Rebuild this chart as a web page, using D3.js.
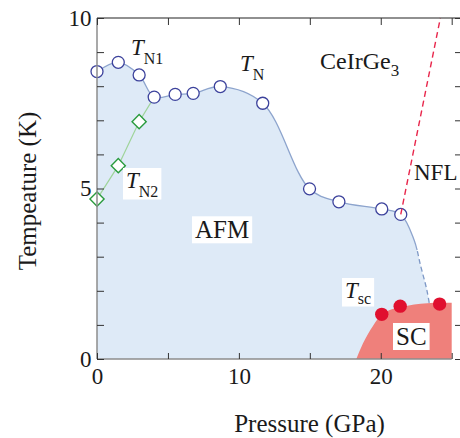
<!DOCTYPE html>
<html>
<head>
<meta charset="utf-8">
<script src="https://cdn.jsdelivr.net/npm/d3@7"></script>
<style>
  body { margin: 0; background: #fff; }
  text { font-family: "Liberation Serif", "Times New Roman", serif; fill: #1a1a1a; }
</style>
</head>
<body>
<div id="chart"></div>
<script>
// T_N (open circles)
const tnPressure = [0, 1.5, 2.97, 4.03, 5.51, 6.78, 8.69, 11.68, 14.98, 17.05, 20.07, 21.41];
const tnTemp = [8.43, 8.7, 8.33, 7.68, 7.76, 7.79, 7.99, 7.5, 4.99, 4.61, 4.4, 4.24];

// T_N2 (open diamonds), joins the T_N line at the 4th circle
const tn2Pressure = [0, 1.5, 2.97];
const tn2Temp = [4.69, 5.67, 6.96];

// T_sc (filled red dots)
const tscPressure = [20.07, 21.37, 24.15];
const tscTemp = [1.31, 1.55, 1.61];

// AFM boundary beyond the last circle (solid, then dashed)
const afmTailPressure = [22.35, 22.83, 23.25, 23.55];
const afmTailTemp = [3.49, 2.7, 2.02, 1.3];

// SC dome edge
const scPressure = [18.28, 18.75, 19.45, 20.17, 21.4, 22.35, 24.2, 25];
const scTemp = [0, 0.46, 0.97, 1.34, 1.52, 1.6, 1.65, 1.65];

// NFL crossover (red dashed)
const nflPressure = [21.41, 24.2];
const nflTemp = [4.24, 10];

const xTicks = [0, 5, 10, 15, 20, 25];
const yTicks = d3.range(0, 11);

const width = 460;
const height = 438;

const x = d3.scaleLinear().domain([0, 25]).range([97, 451.7]);
const y = d3.scaleLinear().domain([0, 10]).range([359, 18]);

const svg = d3
  .select("#chart")
  .append("svg")
  .attr("width", width)
  .attr("height", height);

const zip = (a, b) => a.map((v, i) => [v, b[i]]);

// AFM region
const afmEdge = zip(tnPressure, tnTemp).concat(zip(afmTailPressure, afmTailTemp));
const edgeCurve = d3.curveCatmullRom.alpha(0.5);

svg
  .append("path")
  .datum(afmEdge)
  .attr(
    "d",
    d3.area().x((d) => x(d[0])).y0(y(0)).y1((d) => y(d[1])).curve(edgeCurve)
  )
  .attr("fill", "#deeaf7");

// clip the boundary: solid above 3.2 K, dashed below
const defs = svg.append("defs");
defs
  .append("clipPath")
  .attr("id", "solidClip")
  .append("rect")
  .attr("x", 0)
  .attr("y", 0)
  .attr("width", width)
  .attr("height", y(3.2));
defs
  .append("clipPath")
  .attr("id", "dashClip")
  .append("rect")
  .attr("x", 0)
  .attr("y", y(3.2))
  .attr("width", width)
  .attr("height", y(0) - y(3.2));

const edgeLine = d3.line().x((d) => x(d[0])).y((d) => y(d[1])).curve(edgeCurve);

svg
  .append("path")
  .datum(afmEdge)
  .attr("d", edgeLine)
  .attr("clip-path", "url(#solidClip)")
  .attr("fill", "none")
  .attr("stroke", "#8da4cd")
  .attr("stroke-width", 1.3);

svg
  .append("path")
  .datum(afmEdge)
  .attr("d", edgeLine)
  .attr("clip-path", "url(#dashClip)")
  .attr("fill", "none")
  .attr("stroke", "#7d98c6")
  .attr("stroke-width", 1.3)
  .attr("stroke-dasharray", "5,3");

// SC dome
svg
  .append("path")
  .datum(zip(scPressure, scTemp))
  .attr(
    "d",
    d3
      .area()
      .x((d) => x(d[0]))
      .y0(y(0))
      .y1((d) => y(d[1]))
      .curve(d3.curveMonotoneX)
  )
  .attr("fill", "#ef807b");

// T_N2 line up to the T_N curve
const greenPts = zip(tn2Pressure, tn2Temp).concat([[tnPressure[3], tnTemp[3]]]);
svg
  .append("path")
  .datum(greenPts)
  .attr("d", d3.line().x((d) => x(d[0])).y((d) => y(d[1])))
  .attr("fill", "none")
  .attr("stroke", "#9fd49a")
  .attr("stroke-width", 1.2);

// T_N circles
svg
  .append("g")
  .selectAll("circle")
  .data(zip(tnPressure, tnTemp))
  .join("circle")
  .attr("cx", (d) => x(d[0]))
  .attr("cy", (d) => y(d[1]))
  .attr("r", 6)
  .attr("fill", "#fff")
  .attr("stroke", "#3c429c")
  .attr("stroke-width", 1.3);

// T_N2 diamonds
svg
  .append("g")
  .selectAll("path")
  .data(zip(tn2Pressure, tn2Temp))
  .join("path")
  .attr("d", d3.symbol(d3.symbolSquare, 100))
  .attr("transform", (d) => `translate(${x(d[0])},${y(d[1])}) rotate(45)`)
  .attr("fill", "#fff")
  .attr("stroke", "#2a9b3e")
  .attr("stroke-width", 1.4);

// NFL dashed line
svg
  .append("path")
  .datum(zip(nflPressure, nflTemp))
  .attr("d", d3.line().x((d) => x(d[0])).y((d) => y(d[1])))
  .attr("fill", "none")
  .attr("stroke", "#e8264b")
  .attr("stroke-width", 1.4)
  .attr("stroke-dasharray", "6,4");

// T_sc dots
svg
  .append("g")
  .selectAll("circle")
  .data(zip(tscPressure, tscTemp))
  .join("circle")
  .attr("cx", (d) => x(d[0]))
  .attr("cy", (d) => y(d[1]))
  .attr("r", 6.7)
  .attr("fill", "#e0102f");

// labels
function addLabel(xp, yp, parts, boxed) {
  const t = svg.append("text").attr("x", xp).attr("y", yp);
  parts.forEach((p) => {
    t.append("tspan")
      .text(p.text)
      .attr("font-size", p.size)
      .attr("font-style", p.italic ? "italic" : null)
      .attr("dy", p.dy || 0);
  });
  if (boxed) {
    const b = t.node().getBBox();
    svg
      .insert("rect", () => t.node())
      .attr("x", b.x - 3)
      .attr("y", b.y)
      .attr("width", b.width + 6)
      .attr("height", b.height)
      .attr("fill", "#fff");
  }
}

addLabel(131, 55, [
  { text: "T", italic: true, size: 23 },
  { text: "N1", size: 16, dy: 8.5 },
]);
addLabel(240, 70.5, [
  { text: "T", italic: true, size: 23 },
  { text: "N", size: 16, dy: 9 },
]);
addLabel(126, 188, [
  { text: "T", italic: true, size: 23 },
  { text: "N2", size: 16, dy: 8.5 },
], true);
addLabel(345, 298, [
  { text: "T", italic: true, size: 23 },
  { text: "sc", size: 16, dy: 5.5 },
], true);
addLabel(320, 69, [
  { text: "CeIrGe", size: 24 },
  { text: "3", size: 17, dy: 6.5 },
]);
addLabel(414, 180, [{ text: "NFL", size: 23 }]);
addLabel(195, 238.3, [{ text: "AFM", size: 25 }], true);
addLabel(396, 345, [{ text: "SC", size: 25 }], true);

// axes
function styleAxis(g) {
  g.attr("font-size", null).attr("font-family", null);
  g.select(".domain").remove();
  g.selectAll(".tick line").attr("stroke", "#333").attr("stroke-width", 1);
  g.selectAll(".tick text").attr("font-size", 23).attr("fill", "#1a1a1a");
}

svg
  .append("line")
  .attr("x1", x(0))
  .attr("x2", 462)
  .attr("y1", y(10))
  .attr("y2", y(10))
  .attr("stroke", "#222")
  .attr("stroke-width", 1.2);
svg
  .append("line")
  .attr("x1", x(0))
  .attr("x2", x(0))
  .attr("y1", y(10))
  .attr("y2", y(0))
  .attr("stroke", "#8c8c8c")
  .attr("stroke-width", 1.5);
svg
  .append("line")
  .attr("x1", x(0))
  .attr("x2", x(25))
  .attr("y1", y(0))
  .attr("y2", y(0))
  .attr("stroke", "#8c8c8c")
  .attr("stroke-width", 1.5);

svg
  .append("g")
  .attr("transform", `translate(${x(0)},0)`)
  .call(
    d3
      .axisLeft(y)
      .tickValues(yTicks)
      .tickSize(-7)
      .tickPadding(5.5)
      .tickFormat((d) => (d % 5 === 0 ? d : ""))
  )
  .call(styleAxis);

svg
  .append("g")
  .attr("transform", "translate(462,0)")
  .call(d3.axisRight(y).tickValues(yTicks).tickSize(-7).tickFormat(""))
  .call(styleAxis);

svg
  .append("g")
  .attr("transform", `translate(0,${y(0)})`)
  .call(
    d3
      .axisBottom(x)
      .tickValues(xTicks)
      .tickSize(-6)
      .tickPadding(8.7)
      .tickFormat((d) => (d % 10 === 0 ? d : ""))
  )
  .call(styleAxis);

svg
  .append("g")
  .attr("transform", `translate(0,${y(10)})`)
  .call(d3.axisTop(x).tickValues(xTicks).tickSize(-7).tickFormat(""))
  .call(styleAxis);

// axis titles
svg
  .append("text")
  .attr("x", 309.5)
  .attr("y", 432)
  .attr("text-anchor", "middle")
  .attr("font-size", 25)
  .text("Pressure (GPa)");

svg
  .append("text")
  .attr("transform", "translate(36,191) rotate(-90)")
  .attr("text-anchor", "middle")
  .attr("font-size", 25)
  .text("Tempeature (K)");
</script>
</body>
</html>
